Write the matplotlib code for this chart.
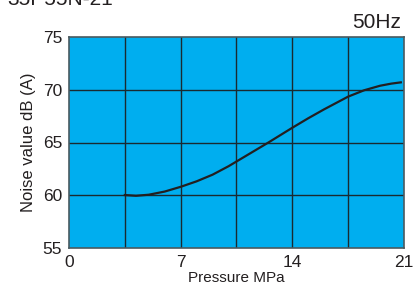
import matplotlib
matplotlib.use("Agg")
import matplotlib.pyplot as plt

plt.rcParams['font.family'] = ['Liberation Sans', 'DejaVu Sans']

pressure = [3.5, 4.2, 5.0, 6.0, 7.0, 8.0, 9.0, 10.0, 10.5, 11.3, 12.5, 14.0, 15.0, 16.0, 17.5, 18.5, 19.5, 20.2, 20.8]
noise = [60.02, 59.95, 60.05, 60.35, 60.8, 61.32, 61.95, 62.75, 63.2, 63.92, 65.0, 66.4, 67.3, 68.15, 69.35, 69.95, 70.38, 70.58, 70.7]

x_ticks = [0, 7, 14, 21]
x_grid = [3.5, 7, 10.5, 14, 17.5]
y_ticks = [55, 60, 65, 70, 75]

fig = plt.figure(figsize=(4.16, 2.88), dpi=100)
ax = fig.add_axes([69/416, 1-248/288, (404-69)/416, (248-37)/288])
ax.set_facecolor('#00aeef')
ax.set_xlim(0, 21)
ax.set_ylim(55, 75)
for xv in x_grid:
    ax.axvline(xv, color='#1a2a30', lw=1.0, zorder=1)
for yv in y_ticks[1:-1]:
    ax.axhline(yv, color='#1a2a30', lw=1.0, zorder=1)
ax.plot(pressure, noise, color='#231f20', lw=1.6, zorder=3)

ax.set_xticks(x_ticks)
ax.set_yticks(y_ticks)
ax.tick_params(length=0, labelsize=12.5, colors='#231f20')
ax.tick_params(axis='x', pad=5)
ax.tick_params(axis='y', pad=5)
for s in ax.spines.values():
    s.set_color('#4a5a60')
    s.set_linewidth(1.2)

ax.set_xlabel('Pressure MPa', fontsize=11, color='#231f20', labelpad=1)
ax.set_ylabel('Noise value dB (A)', fontsize=12, color='#231f20', labelpad=5)

fig.text(401/416, 1-28/288, '50Hz', ha='right', va='baseline', fontsize=15, color='#231f20')
fig.text(7/416, 1-5/288, '35P55N-21', ha='left', va='baseline', fontsize=15, color='#231f20')

fig.savefig('out.png', dpi=100)
